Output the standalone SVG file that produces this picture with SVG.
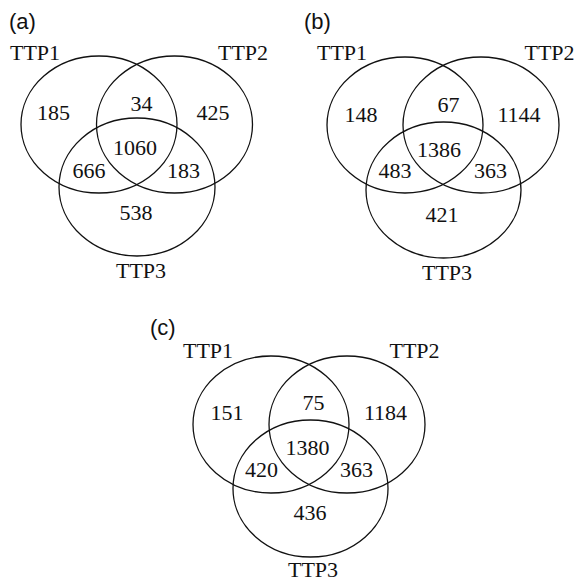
<svg xmlns="http://www.w3.org/2000/svg" width="577" height="581" viewBox="0 0 577 581">
<style>
.e{fill:none;stroke:#111;stroke-width:1.3}
.t{font-family:"Liberation Serif","Times New Roman",serif;font-size:22px;fill:#111;text-anchor:middle}
.p{font-family:"Liberation Sans",Arial,sans-serif;font-size:22px;fill:#111}
</style>
<rect width="577" height="581" fill="#fff"/>
<g id="panel-a">
<text class="p" x="9" y="29">(a)</text>
<g id="a-ttp1"><ellipse class="e" cx="99" cy="124.5" rx="78" ry="68.5"/><text class="t" x="35" y="60">TTP1</text></g>
<g id="a-ttp2"><ellipse class="e" cx="174.5" cy="124.5" rx="78" ry="68.5"/><text class="t" x="243" y="60">TTP2</text></g>
<g id="a-ttp3"><ellipse class="e" cx="137" cy="187" rx="78" ry="69"/><text class="t" x="141" y="278">TTP3</text></g>
<g id="a-values">
<text class="t" x="53.5" y="120">185</text>
<text class="t" x="141.5" y="111">34</text>
<text class="t" x="213" y="120">425</text>
<text class="t" x="135" y="155">1060</text>
<text class="t" x="89" y="178">666</text>
<text class="t" x="183.5" y="178">183</text>
<text class="t" x="136" y="220">538</text>
</g>
</g>
<g id="panel-b">
<text class="p" x="304" y="29">(b)</text>
<g id="b-ttp1"><ellipse class="e" cx="405" cy="125" rx="78" ry="68"/><text class="t" x="342" y="60">TTP1</text></g>
<g id="b-ttp2"><ellipse class="e" cx="481" cy="125" rx="78" ry="68"/><text class="t" x="549.5" y="60">TTP2</text></g>
<g id="b-ttp3"><ellipse class="e" cx="443.5" cy="190" rx="77.5" ry="68"/><text class="t" x="447" y="280">TTP3</text></g>
<g id="b-values">
<text class="t" x="361" y="122">148</text>
<text class="t" x="448.5" y="112">67</text>
<text class="t" x="519" y="122">1144</text>
<text class="t" x="439" y="157">1386</text>
<text class="t" x="395" y="178">483</text>
<text class="t" x="490.5" y="178">363</text>
<text class="t" x="442" y="222">421</text>
</g>
</g>
<g id="panel-c">
<text class="p" x="150" y="335">(c)</text>
<g id="c-ttp1"><ellipse class="e" cx="271" cy="424.5" rx="78" ry="68.5"/><text class="t" x="208" y="358">TTP1</text></g>
<g id="c-ttp2"><ellipse class="e" cx="347" cy="424.5" rx="78" ry="68.5"/><text class="t" x="414.5" y="358">TTP2</text></g>
<g id="c-ttp3"><ellipse class="e" cx="310.5" cy="488.5" rx="77.5" ry="68.5"/><text class="t" x="313" y="577">TTP3</text></g>
<g id="c-values">
<text class="t" x="227" y="420">151</text>
<text class="t" x="313.5" y="410">75</text>
<text class="t" x="385.5" y="420">1184</text>
<text class="t" x="307.5" y="455">1380</text>
<text class="t" x="261.5" y="477">420</text>
<text class="t" x="356.5" y="477">363</text>
<text class="t" x="310" y="520">436</text>
</g>
</g>
<g id="connectors"></g>
</svg>
